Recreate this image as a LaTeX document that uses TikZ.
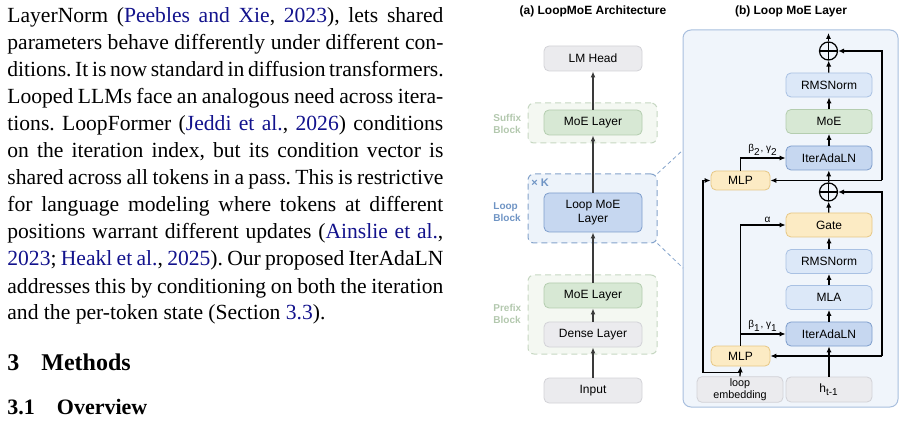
\documentclass[tikz,border=0pt]{standalone}
\usepackage{fontspec}
\setmainfont{Liberation Serif}
\newfontfamily\diagfont{Liberation Sans}
\usetikzlibrary{arrows.meta,positioning}
\frenchspacing
\definecolor{citeblue}{rgb}{0.07,0.07,0.55}
\definecolor{boxgray}{HTML}{EBEBEE}
\definecolor{boxgrayline}{HTML}{D2D2D7}
\definecolor{boxgreen}{HTML}{D7E8D4}
\definecolor{boxgreenline}{HTML}{B4CDAF}
\definecolor{boxblue}{HTML}{C6D7F0}
\definecolor{boxblueline}{HTML}{7E9ECC}
\definecolor{boxpale}{HTML}{DCE8F8}
\definecolor{boxpaleline}{HTML}{A9C1E3}
\definecolor{boxyellow}{HTML}{FCEBC4}
\definecolor{boxyellowline}{HTML}{E6C785}
\definecolor{panelfill}{HTML}{F0F5FB}
\definecolor{panelline}{HTML}{A8BFDE}
\definecolor{greenblk}{HTML}{F4F8F2}
\definecolor{greenblkline}{HTML}{C6D7C2}
\definecolor{greenlabel}{HTML}{B3C8AE}
\definecolor{loopblk}{HTML}{EDF3FA}
\definecolor{loopblkline}{HTML}{84A3CB}
\definecolor{looplabel}{HTML}{6F94C4}
\definecolor{arrowa}{HTML}{3A3A3A}
\newcommand{\cit}[1]{\textcolor{citeblue}{#1}}
\tikzset{
  txtline/.style={anchor=base west, inner sep=0pt, font=\fontsize{10.8}{13.5}\selectfont},
  blk/.style={draw, rounded corners=2.5pt, line width=0.4pt, minimum width=49pt,
    minimum height=12.5pt, inner sep=1pt, align=center,
    font=\diagfont\fontsize{6}{7}\selectfont},
  graybox/.style={blk, fill=boxgray, draw=boxgrayline},
  greenbox/.style={blk, fill=boxgreen, draw=boxgreenline},
  bluebox/.style={blk, fill=boxblue, draw=boxblueline},
  palebox/.style={blk, fill=boxpale, draw=boxpaleline},
  yellowbox/.style={blk, fill=boxyellow, draw=boxyellowline},
  narrow/.style={minimum width=43pt, minimum height=12pt},
  greenblock/.style={draw=greenblkline, fill=greenblk, dashed, dash pattern=on 3pt off 2pt,
    rounded corners=3pt, line width=0.5pt, minimum width=64.5pt, inner sep=0pt},
  sidelabel/.style={anchor=west, align=left, inner sep=0pt,
    font=\diagfont\bfseries\fontsize{5}{6}\selectfont},
  paneltitle/.style={font=\diagfont\bfseries\fontsize{6}{7}\selectfont, inner sep=0pt},
  flowa/.style={-{Latex[length=3pt,width=2.4pt]}, line width=0.55pt, draw=arrowa},
  flowb/.style={-{Latex[length=3pt,width=2.6pt]}, line width=0.65pt, draw=black},
  plus/.style={circle, draw=black, line width=0.6pt, minimum size=9pt, inner sep=0pt,
    path picture={\draw[line width=0.6pt] (path picture bounding box.north) -- (path picture bounding box.south)
      (path picture bounding box.west) -- (path picture bounding box.east);}},
  edgelabel/.style={font=\diagfont\fontsize{5}{6}\selectfont, inner sep=1pt}
}

\begin{document}
\begin{tikzpicture}[x=0.5pt,y=-0.5pt]
\useasboundingbox (0,0) rectangle (905,422);

%%%%% TEXT COLUMN %%%%%
\node[txtline] (l1) at (7,23) {\makebox[218pt][s]{LayerNorm (\cit{Peebles and Xie}, \cit{2023}), lets shared}};
\node[txtline] (l2) at (7,50) {\makebox[218pt][s]{parameters behave differently under different con-}};
\node[txtline] (l3) at (7,77) {\makebox[218pt][s]{ditions. It is now standard in diffusion transformers.}};
\node[txtline] (l4) at (7,104) {\makebox[218pt][s]{Looped LLMs face an analogous need across itera-}};
\node[txtline] (l5) at (7,131) {\makebox[218pt][s]{tions. LoopFormer (\cit{Jeddi et al.}, \cit{2026}) conditions}};
\node[txtline] (l6) at (7,158) {\makebox[218pt][s]{on the iteration index, but its condition vector is}};
\node[txtline] (l7) at (7,185) {\makebox[218pt][s]{shared across all tokens in a pass. This is restrictive}};
\node[txtline] (l8) at (7,212) {\makebox[218pt][s]{for language modeling where tokens at different}};
\node[txtline] (l9) at (7,239) {\makebox[218pt][s]{positions warrant different updates (\cit{Ainslie et al.},}};
\node[txtline] (l10) at (7,266) {\makebox[218pt][s]{\cit{2023}; \cit{Heakl et al.}, \cit{2025}). Our proposed IterAdaLN}};
\node[txtline] (l11) at (7,293) {\makebox[218pt][s]{addresses this by conditioning on both the iteration}};
\node[txtline] (l12) at (7,320) {and the per-token state (Section \cit{3.3}).};
\node[txtline, font=\fontsize{12}{14}\selectfont\bfseries] (sec) at (7,371) {3\hspace{11pt}Methods};
\node[txtline, font=\fontsize{11}{13}\selectfont\bfseries] (subsec) at (7,415) {3.1\hspace{11pt}Overview};

%%%%% (a) LOOPMOE ARCHITECTURE %%%%%
\node[paneltitle] (titlea) at (593,11) {(a) LoopMoE Architecture};

\node[greenblock, minimum height=20pt] (suffixblk) at (592.5,123) {};
\node[greenblock, minimum height=39.5pt] (prefixblk) at (592.5,314.5) {};
\node[greenblock, draw=loopblkline, fill=loopblk, minimum height=34.5pt] (loopblk) at (592.5,208.5) {};

\node[sidelabel, text=greenlabel] (suffixlbl) at (493,123.5) {Suffix\\Block};
\node[sidelabel, text=looplabel] (looplbl) at (493,212.5) {Loop\\Block};
\node[sidelabel, text=greenlabel] (prefixlbl) at (493,314) {Prefix\\Block};
\node[sidelabel, text=looplabel, font=\diagfont\bfseries\fontsize{5.5}{6}\selectfont] (times) at (531,183) {× K};

\node[graybox] (lmhead) at (593,58.5) {LM Head};
\node[greenbox] (suffixmoe) at (593,122.5) {MoE Layer};
\node[bluebox, minimum height=19.5pt] (loopmoe) at (593,212.5) {Loop MoE\\Layer};
\node[greenbox] (prefixmoe) at (593,295.5) {MoE Layer};
\node[graybox] (dense) at (593,334.5) {Dense Layer};
\node[graybox] (input) at (593,390.5) {Input};

\draw[flowa] (input) -- (dense);
\draw[flowa] (dense) -- (prefixmoe);
\draw[flowa] (prefixmoe) -- (loopmoe);
\draw[flowa] (loopmoe) -- (suffixmoe);
\draw[flowa] (suffixmoe) -- (lmhead);

%%%%% (b) LOOP MOE LAYER %%%%%
\node[paneltitle] (titleb) at (791,11) {(b) Loop MoE Layer};
\draw[draw=panelline, fill=panelfill, line width=0.5pt, rounded corners=4pt] (683,30) rectangle (898,407);

\coordinate (zoomtop) at (683,150);
\coordinate (zoombot) at (683,268);
\draw[loopblkline, dashed, dash pattern=on 2pt off 1.5pt, line width=0.4pt] (loopblk.north east) -- (zoomtop);
\draw[loopblkline, dashed, dash pattern=on 2pt off 1.5pt, line width=0.4pt] (loopblk.south east) -- (zoombot);

\node[plus] (plusb) at (828.5,51) {};
\node[palebox, narrow] (rmsb) at (829,85) {RMSNorm};
\node[greenbox, narrow] (moe) at (829,121.5) {MoE};
\node[bluebox, narrow] (iterb) at (829,158) {IterAdaLN};
\node[plus] (plusa) at (828.5,192) {};
\node[yellowbox, narrow] (gate) at (829,225) {Gate};
\node[palebox, narrow] (rmsa) at (829,261.5) {RMSNorm};
\node[palebox, narrow] (mla) at (829,297.5) {MLA};
\node[bluebox, narrow] (itera) at (829,334) {IterAdaLN};
\node[yellowbox, minimum width=29.5pt, minimum height=9.5pt] (mlpb) at (740.5,180.5) {MLP};
\node[yellowbox, minimum width=29.5pt, minimum height=10pt] (mlpa) at (740.5,356) {MLP};
\node[graybox, narrow, minimum height=12.5pt, font=\diagfont\fontsize{5.4}{5.8}\selectfont] (loopemb) at (740,389.5) {loop\\embedding};
\node[graybox, narrow, minimum height=12.5pt] (hprev) at (829,389.5) {h\textsubscript{t-1}};

\coordinate (out) at (828.5,33);
\coordinate (railb) at (882,180.5);
\coordinate (raila) at (882,356);
\coordinate (embsplit) at (740,372.5);
\coordinate (leftrail) at (703,372.5);

% main stream
\draw[flowb] (hprev) -- (itera);
\draw[flowb] (itera) -- (mla);
\draw[flowb] (mla) -- (rmsa);
\draw[flowb] (rmsa) -- (gate);
\draw[flowb] (gate) -- (plusa);
\draw[flowb] (plusa) -- (iterb);
\draw[flowb] (iterb) -- (moe);
\draw[flowb] (moe) -- (rmsb);
\draw[flowb] (rmsb) -- (plusb);
\draw[flowb] (plusb) -- (out);

% residuals
\draw[flowb] (raila) -- (mlpa.east);
\draw[flowb] (raila) |- (plusa.east);
\draw[flowb] (railb) -- (mlpb.east);
\draw[flowb] (railb) |- (plusb.east);

% conditioning
\draw[flowb] (loopemb.north) -- (mlpa.south);
\draw[flowb] (embsplit) -- (leftrail) |- (mlpb.west);
\draw[flowb] (mlpa.north) |- (gate.west) node[edgelabel, pos=0.8, above] {α};
\draw[flowb] (mlpa.north |- itera.west) -- (itera.west) node[edgelabel, midway, above] {β\textsubscript{1}, γ\textsubscript{1}};
\draw[flowb] (mlpb.north) |- (iterb.west) node[edgelabel, pos=0.75, above] {β\textsubscript{2}, γ\textsubscript{2}};
\end{tikzpicture}
\end{document}
